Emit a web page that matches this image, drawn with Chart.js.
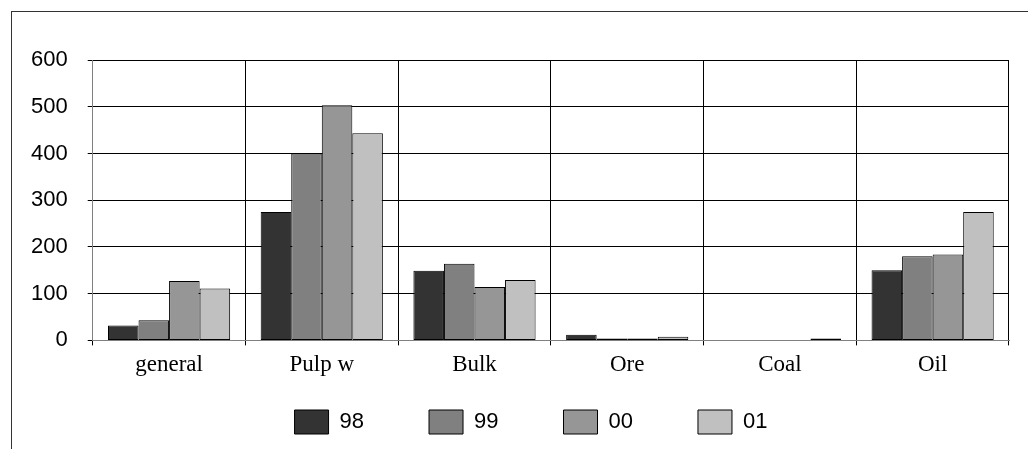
<!DOCTYPE html>
<html>
<head>
<meta charset="utf-8">
<script src="https://cdn.jsdelivr.net/npm/chart.js@4"></script>
<style>
  body { margin: 0; background: #fff; }
  #wrap { position: relative; width: 1028px; height: 449px; }
  #frame {
    position: absolute; left: 11px; top: 11px; right: 0; bottom: 0;
    border-left: 1px solid #333; border-top: 1px solid #333;
  }
  canvas { position: absolute; left: 0; top: 0; }
</style>
</head>
<body>
<div id="wrap">
  <div id="frame"></div>
  <canvas id="myChart" width="1028" height="449"></canvas>
</div>
<script>
const categories = ['general', 'Pulp w', 'Bulk', 'Ore', 'Coal', 'Oil'];
const years = ['98', '99', '00', '01'];
const values98 = [32, 275, 149, 12, 0, 150];
const values99 = [43, 400, 164, 4, 0, 180];
const values00 = [127, 503, 114, 4, 0, 184];
const values01 = [111, 443, 129, 8, 4, 275];
const yTicks = [0, 100, 200, 300, 400, 500, 600];
const colors = ['#333333', '#808080', '#969696', '#c0c0c0'];

document.addEventListener('DOMContentLoaded', function() {
    renderChart();
});

// legend padding is used for both the gaps between items and above/below them,
// so the legend box is clamped and then moved/stretched after layout
const legendNudge = {
    id: 'legendNudge',
    afterLayout(chart) {
        const lg = chart.legend;
        if (!lg) return;
        const dx = 21;
        lg.top = 345;
        lg.bottom = chart.height;
        lg.height = lg.bottom - lg.top;
        lg.left += dx; lg.right += dx;
    }
};

function renderChart() {
    const series = [values98, values99, values00, values01];
    const datasets = series.map((vals, i) => ({
        label: years[i],
        data: vals,
        backgroundColor: colors[i],
        borderColor: '#000',
        borderWidth: 1,
        borderSkipped: false,
        barPercentage: 1.0,
        categoryPercentage: 0.8
    }));

    const ctx = document.getElementById('myChart').getContext('2d');
    new Chart(ctx, {
        type: 'bar',
        data: { labels: categories, datasets: datasets },
        plugins: [legendNudge],
        options: {
            responsive: false,
            animation: false,
            layout: { padding: { left: 11, right: 19, top: 60, bottom: 4 } },
            plugins: {
                tooltip: { enabled: false },
                legend: {
                    position: 'bottom',
                    maxHeight: 60,
                    labels: {
                        boxWidth: 34,
                        boxHeight: 24,
                        padding: 65,
                        color: '#000',
                        font: { family: 'Liberation Sans, Arial', size: 22 }
                    }
                }
            },
            scales: {
                x: {
                    grid: {
                        offset: true,
                        color: c => (c.index === 0 || c.index === categories.length) ? '#808080' : '#000',
                        tickColor: '#000',
                        tickLength: 5
                    },
                    border: { color: '#808080', width: 1 },
                    ticks: {
                        color: '#000',
                        padding: 6,
                        font: { family: 'Liberation Serif, Times New Roman', size: 23 }
                    }
                },
                y: {
                    min: 0,
                    max: 600,
                    afterBuildTicks: axis => { axis.ticks = yTicks.map(v => ({ value: v })); },
                    grid: {
                        color: '#000',
                        tickColor: '#000',
                        tickLength: 5
                    },
                    border: { color: '#808080', width: 1 },
                    ticks: {
                        color: '#000',
                        padding: 20,
                        font: { family: 'Liberation Sans, Arial', size: 22 }
                    }
                }
            }
        }
    });
}
</script>
</body>
</html>
